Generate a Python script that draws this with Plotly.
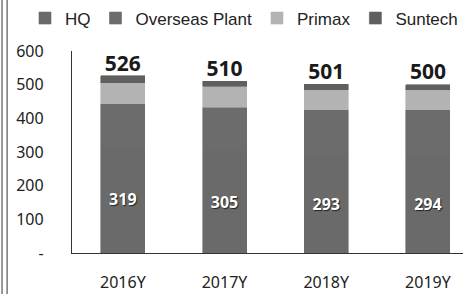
import plotly.graph_objects as go

years = ["2016Y", "2017Y", "2018Y", "2019Y"]
hq = [319, 305, 293, 294]
overseas = [125, 128, 133, 132]
primax = [62, 62, 59, 59]
suntech = [20, 15, 16, 15]
totals = [526, 510, 501, 500]

ytick_vals = [0, 100, 200, 300, 400, 500, 600]
ytick_text = ["-", "100", "200", "300", "400", "500", "600"]

colors = {"HQ": "#6a6a6a", "Overseas Plant": "#6c6c6c", "Primax": "#b3b3b3", "Suntech": "#5f5f5f"}

fig = go.Figure()
bw = 0.433


def mk(name):
    return dict(color=colors[name], line=dict(color=colors[name], width=0.6))


fig.add_bar(x=years, y=hq, name="HQ", marker=mk("HQ"),
            text=[str(v) for v in hq], textposition="inside", insidetextanchor="middle",
            textfont=dict(color="white", size=16, family="Noto Sans", weight="bold",
                          shadow="1px 1px 1px #222"),
            width=bw)
fig.add_bar(x=years, y=overseas, name="Overseas Plant", marker=mk("Overseas Plant"), width=bw)
fig.add_bar(x=years, y=primax, name="Primax", marker=mk("Primax"), width=bw)
fig.add_bar(x=years, y=suntech, name="Suntech", marker=mk("Suntech"), width=bw)
fig.add_scatter(x=years, y=totals, mode="text", text=[str(v) for v in totals],
                textposition="top center", showlegend=False, hoverinfo="skip",
                textfont=dict(size=21, color="#1a1a1a", family="Noto Sans", weight="bold"))

fig.update_layout(
    width=463, height=294, barmode="stack", bargap=0.567,
    margin=dict(l=72, r=0, t=49, b=41),
    paper_bgcolor="white", plot_bgcolor="white",
    font=dict(family="Noto Sans", color="#222"),
    legend=dict(orientation="h", x=-0.12, xref="paper", xanchor="left", y=1.25, yref="paper",
                yanchor="top", font=dict(size=17, family="Liberation Sans", color="#222"),
                itemwidth=30, traceorder="normal", bgcolor="rgba(0,0,0,0)"),
    showlegend=True,
)
fig.update_xaxes(range=[-0.5, 3.345], showline=True, linecolor="#333", linewidth=1.2,
                 ticks="", tickfont=dict(size=16, family="Noto Sans", color="#222"),
                 ticklabelstandoff=15, showgrid=False)
fig.update_yaxes(range=[0, 600], tickvals=ytick_vals, ticktext=ytick_text, showline=True,
                 linecolor="#333", linewidth=1.2, showgrid=False, ticks="",
                 tickfont=dict(size=16, family="Noto Sans", color="#222"),
                 ticklabelstandoff=24, zeroline=False)

# outer frame lines
for xp in (-0.179, -0.166):
    fig.add_shape(type="line", xref="paper", yref="paper", x0=xp, x1=xp, y0=-0.25, y1=1.3,
                  line=dict(color="#555", width=1.2))

fig.write_html("out.html", config={"displayModeBar": False},
               post_script="document.body.style.margin='0';")
